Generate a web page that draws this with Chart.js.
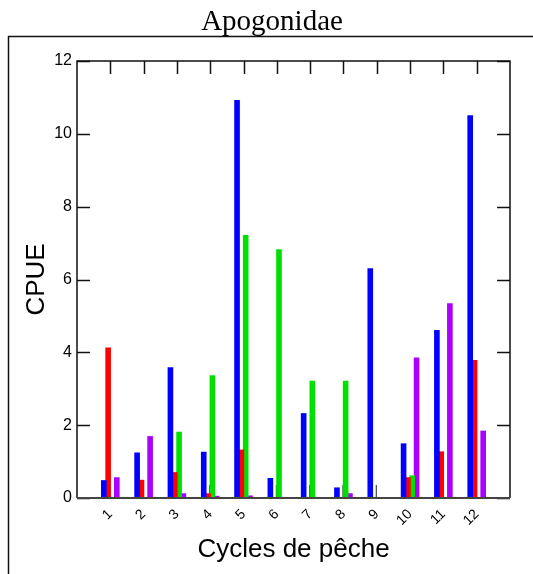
<!DOCTYPE html>
<html>
<head>
<meta charset="utf-8">
<script src="https://cdn.jsdelivr.net/npm/chart.js@4.4.0/dist/chart.umd.min.js"></script>
<style>
  html, body { margin: 0; padding: 0; background: #fff; }
  #wrap { width: 533px; height: 574px; }
</style>
</head>
<body>
<div id="wrap"><canvas id="c" width="533" height="574"></canvas></div>
<script>
const categories = ['1','2','3','4','5','6','7','8','9','10','11','12'];
const blueValues   = [0.49, 1.25, 3.59, 1.27, 10.93, 0.55, 2.33, 0.29, 6.31, 1.50, 4.61, 10.51];
const redValues    = [4.13, 0.50, 0.71, 0.13, 1.33, 0.02, 0.02, 0.02, 0.02, 0.57, 1.28, 3.79];
const greenValues  = [0.02, 0.02, 1.82, 3.37, 7.22, 6.83, 3.22, 3.22, 0.02, 0.62, 0.02, 0.02];
const purpleValues = [0.57, 1.70, 0.13, 0.06, 0.07, 0.02, 0.02, 0.13, 0.02, 3.86, 5.35, 1.85];
const yTicks = [0, 2, 4, 6, 8, 10, 12];
const titleText = 'Apogonidae';
const xTitle = 'Cycles de pêche';
const yTitle = 'CPUE';

const labels = ['', ...categories, ''];
const pad = arr => [null, ...arr, null];

const frameTickLen = 13;

const decorPlugin = {
  id: 'decor',
  beforeDatasetsDraw(chart) {
    const ctx = chart.ctx;
    const xs = chart.scales.x;
    const a = chart.chartArea;
    ctx.save();
    ctx.strokeStyle = '#222';
    ctx.lineWidth = 1;
    ctx.beginPath();
    for (let i = 1; i <= categories.length; i++) {
      const x = xs.getPixelForValue(i) - 0.5;
      ctx.moveTo(x, a.bottom);
      ctx.lineTo(x, a.bottom - frameTickLen);
    }
    ctx.stroke();
    ctx.restore();
  },
  afterDatasetsDraw(chart) {
    const ctx = chart.ctx;
    const xs = chart.scales.x;
    const ys = chart.scales.y;
    const a = chart.chartArea;
    ctx.save();
    ctx.strokeStyle = '#111';
    ctx.lineWidth = 1.5;
    ctx.beginPath();
    for (let i = 1; i <= categories.length; i++) {
      const x = Math.round(xs.getPixelForValue(i)) + 0.5;
      ctx.moveTo(x, a.top);
      ctx.lineTo(x, a.top + frameTickLen);
    }
    yTicks.forEach(v => {
      const y = Math.round(ys.getPixelForValue(v)) + 0.5;
      ctx.moveTo(a.left, y);
      ctx.lineTo(a.left + frameTickLen, y);
      ctx.moveTo(a.right, y);
      ctx.lineTo(a.right - frameTickLen, y);
    });
    ctx.stroke();
    // plot frame
    ctx.lineWidth = 1.5;
    ctx.strokeStyle = '#111';
    ctx.beginPath();
    ctx.moveTo(a.left, a.bottom);
    ctx.lineTo(a.left, a.top);
    ctx.lineTo(a.right, a.top);
    ctx.lineTo(a.right, a.bottom);
    ctx.stroke();
    ctx.strokeStyle = '#444';
    ctx.lineWidth = 2;
    ctx.beginPath();
    ctx.moveTo(a.left, a.bottom);
    ctx.lineTo(a.right, a.bottom);
    ctx.stroke();
    // outer frame
    ctx.strokeStyle = '#111';
    ctx.lineWidth = 1.5;
    ctx.beginPath();
    ctx.moveTo(8.5, chart.height + 2);
    ctx.lineTo(8.5, 36.5);
    ctx.lineTo(chart.width + 2, 36.5);
    ctx.stroke();
    // title
    ctx.fillStyle = '#000';
    ctx.font = '29px "Liberation Serif", "Times New Roman", serif';
    ctx.textAlign = 'center';
    ctx.textBaseline = 'alphabetic';
    ctx.fillText(titleText, 272, 29.5);
    ctx.restore();
  }
};

const mk = (label, data, color) => ({
  label, data: pad(data), backgroundColor: color, borderWidth: 0,
  barPercentage: 1.3, categoryPercentage: 0.52
});

new Chart(document.getElementById('c'), {
  type: 'bar',
  data: {
    labels,
    datasets: [
      mk('Bleu', blueValues, '#0000ff'),
      mk('Rouge', redValues, '#ff0000'),
      mk('Vert', greenValues, '#00e000'),
      mk('Violet', purpleValues, '#aa00ff')
    ]
  },
  options: {
    responsive: false,
    animation: false,
    layout: { padding: { top: 61, right: 23, left: 0, bottom: 0 } },
    plugins: {
      legend: { display: false },
      title: { display: false },
      tooltip: { enabled: false }
    },
    scales: {
      x: {
        type: 'category',
        offset: false,
        grid: { display: false, drawTicks: false, offset: false },
        border: { display: false },
        ticks: {
          autoSkip: false,
          minRotation: 45, maxRotation: 45,
          padding: 8,
          color: '#000',
          font: { family: '"Liberation Sans", Arial, sans-serif', size: 14 }
        },
        title: {
          display: true, text: xTitle, color: '#000',
          font: { family: '"Liberation Sans", Arial, sans-serif', size: 26 },
          padding: { top: 0, bottom: 9 }
        },
        afterFit(s) { s.height = 76; }
      },
      y: {
        min: 0, max: 12,
        grid: { display: false, drawTicks: false },
        border: { display: false },
        afterBuildTicks(s) { s.ticks = yTicks.map(v => ({ value: v })); },
        ticks: {
          padding: 5,
          color: '#000',
          font: { family: '"Liberation Sans", Arial, sans-serif', size: 16 }
        },
        title: {
          display: true, text: yTitle, color: '#000',
          font: { family: '"Liberation Sans", Arial, sans-serif', size: 26 },
          padding: { top: 21, bottom: 0 }
        },
        afterFit(s) { s.width = 77; }
      }
    }
  },
  plugins: [decorPlugin]
});
</script>
</body>
</html>
